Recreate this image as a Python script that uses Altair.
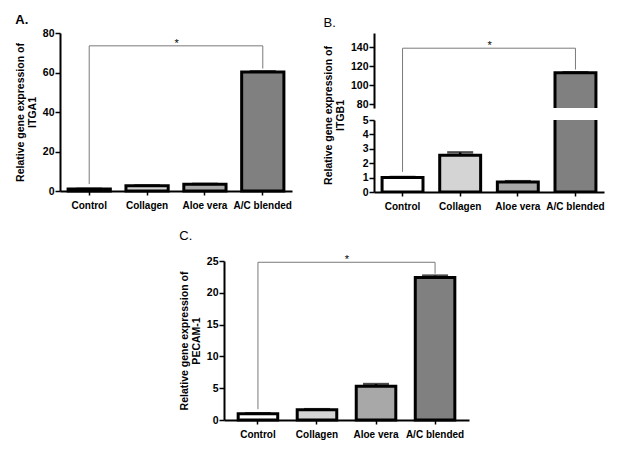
import altair as alt
import pandas as pd

categories = ["Control", "Collagen", "Aloe vera", "A/C blended"]
fills = ["#ffffff", "#d4d4d4", "#a8a8a8", "#808080"]

itga1_mean = [1.0, 2.6, 3.4, 60.3]
itga1_err = [0.1, 0.2, 0.2, 0.3]
itgb1_mean = [1.0, 2.55, 0.7, 113.0]
itgb1_err = [0.05, 0.2, 0.05, 0.6]
pecam_mean = [1.0, 1.6, 5.3, 22.4]
pecam_err = [0.05, 0.1, 0.35, 0.3]

# significance brackets: level, left-leg end, right-leg end
itga1_bracket = [73.5, 3.5, 62.0]
itgb1_bracket = [139.0, 1.4, 116.5]
pecam_bracket = [24.8, 1.7, 23.0]

FONT = "Liberation Sans"
BR = "#7a7a7a"


def frame(mean, err):
    return pd.DataFrame({"cat": categories, "mean": mean,
                         "upper": [m + e for m, e in zip(mean, err)]})


def layers(mean, err, bracket, yscale, yaxis, xaxis, xscale, step, clip=False,
           left_leg_end=None, show_left_leg=True, show_bracket=True):
    def X(field):
        return alt.X(field, sort=categories, scale=xscale, axis=xaxis)

    def Y(field):
        return alt.Y(field, scale=yscale, axis=yaxis)

    df = frame(mean, err)
    bars = alt.Chart(df).mark_bar(stroke="black", strokeWidth=3, clip=clip).encode(
        x=X("cat:N"), y=Y("mean:Q"),
        fill=alt.Fill("cat:N", scale=alt.Scale(domain=categories, range=fills), legend=None),
    )
    errs = alt.Chart(df).mark_rule(color="black", strokeWidth=2.5, clip=True).encode(
        x=X("cat:N"), y=Y("mean:Q"), y2="upper:Q")
    caps = alt.Chart(df).mark_tick(color="black", thickness=2.5, size=26, orient="horizontal", clip=True).encode(
        x=X("cat:N"), y=Y("upper:Q"))
    out = [bars, errs, caps]
    if show_bracket:
        lvl, lend, rend = bracket
        hdf = pd.DataFrame({"cat": [categories[0]], "b": [categories[-1]], "y": [lvl]})
        hl = alt.Chart(hdf).mark_rule(color=BR, strokeWidth=1).encode(
            x=X("cat:N"), x2="b:N", y=Y("y:Q"))
        rdf = pd.DataFrame({"cat": [categories[-1]], "y": [lvl], "y2": [rend]})
        rl = alt.Chart(rdf).mark_rule(color=BR, strokeWidth=1).encode(
            x=X("cat:N"), y=Y("y:Q"), y2="y2:Q")
        sdf = pd.DataFrame({"cat": [categories[1]], "y": [lvl]})
        star = alt.Chart(sdf).mark_text(text="*", fontSize=11, font=FONT, dx=step / 2, dy=1,
                                        baseline="alphabetic").encode(
            x=X("cat:N"), y=Y("y:Q"))
        out += [hl, rl, star]
    if show_left_leg:
        lvl, lend, rend = bracket
        top = lvl if left_leg_end is None else left_leg_end[0]
        bot = lend if left_leg_end is None else left_leg_end[1]
        ldf = pd.DataFrame({"cat": [categories[0]], "y": [top], "y2": [bot]})
        ll = alt.Chart(ldf).mark_rule(color=BR, strokeWidth=1).encode(
            x=X("cat:N"), y=Y("y:Q"), y2="y2:Q")
        out.append(ll)
    return out


def xaxis_full():
    return alt.Axis(title=None, labelAngle=0, labelPadding=5, ticks=True, tickSize=4,
                    labelFontSize=10)


ystyle = dict(labelOverlap=False, labelFlush=False, labelFontSize=10.5, ticks=True,
              tickSize=5, labelPadding=1)
ytitle = dict(titleFontSize=10.5, titleFont=FONT, titleFontWeight="bold",
              titleLineHeight=12, titlePadding=5)

# Panel A
xsA = alt.Scale(domain=categories, paddingInner=0.27, paddingOuter=0.14)
panelA = alt.layer(*layers(
    itga1_mean, itga1_err, itga1_bracket,
    alt.Scale(domain=[0, 80], nice=False),
    alt.Axis(values=[0, 20, 40, 60, 80], title=["Relative gene expression of", "ITGA1"], **ystyle, **ytitle),
    xaxis_full(), xsA, 59)).properties(
    width=232, height=158,
    title=alt.TitleParams("A.", anchor="start", frame="bounds", fontSize=13, font=FONT,
                          fontWeight="bold", offset=1))

# Panel B (broken axis)
xsB = alt.Scale(domain=categories, paddingInner=0.29, paddingOuter=0.14)
b_lvl, b_lend, b_rend = itgb1_bracket
upperB = alt.layer(*layers(
    itgb1_mean, itgb1_err, itgb1_bracket,
    alt.Scale(domain=[76, 155], nice=False, zero=False),
    alt.Axis(values=[80, 100, 120, 140], title=["Relative gene expression of", "ITGB1"],
             titleY=82, **ystyle, **ytitle),
    None, xsB, 59, clip=True, left_leg_end=[b_lvl, 63], show_left_leg=True)).properties(
    width=230, height=75,
    title=alt.TitleParams("B.", anchor="start", frame="bounds", fontSize=13, font=FONT,
                          fontWeight="normal", offset=3))

lowerB = alt.layer(*layers(
    itgb1_mean, itgb1_err, itgb1_bracket,
    alt.Scale(domain=[0, 5], nice=False),
    alt.Axis(values=[0, 1, 2, 3, 4, 5], title=None, **ystyle),
    xaxis_full(), xsB, 59, clip=True, left_leg_end=[5, b_lend], show_bracket=False)).properties(
    width=230, height=72)

panelB = alt.vconcat(upperB, lowerB, spacing=12, bounds="flush")

# Panel C
xsC = alt.Scale(domain=categories, paddingInner=0.33, paddingOuter=0.24)
panelC = alt.layer(*layers(
    pecam_mean, pecam_err, pecam_bracket,
    alt.Scale(domain=[0, 25], nice=False),
    alt.Axis(values=[0, 5, 10, 15, 20, 25], title=["Relative gene expression of", "PECAM-1"], **ystyle, **ytitle),
    xaxis_full(), xsC, 60)).properties(
    width=245, height=159,
    title=alt.TitleParams("C.", anchor="start", frame="bounds", fontSize=13, font=FONT,
                          fontWeight="normal", offset=11))

spacer = alt.Chart(pd.DataFrame({"v": [0]})).mark_point(opacity=0, size=0).encode(
    x=alt.X("v:Q", axis=None, scale=alt.Scale(domain=[0, 1])),
    y=alt.Y("v:Q", axis=None, scale=alt.Scale(domain=[0, 1]))).properties(width=119, height=1)

top = alt.hconcat(panelA, panelB, spacing=31)
bottom = alt.hconcat(spacer, panelC, spacing=0)

chart = alt.vconcat(top, bottom, spacing=19).properties(
    padding={"left": 7, "top": 6, "right": 5, "bottom": 5}
).configure_view(stroke=None).configure_axis(
    grid=False, domainColor="black", domainWidth=2, tickColor="black", tickWidth=1.5,
    tickSize=4, labelFont=FONT, labelFontWeight="bold", labelFontSize=10, labelColor="black",
    titleColor="black", labelPadding=2, labelOverlap=False
).configure_concat(spacing=0)

chart.save("out.html", embed_options={"renderer": "svg", "actions": False})
